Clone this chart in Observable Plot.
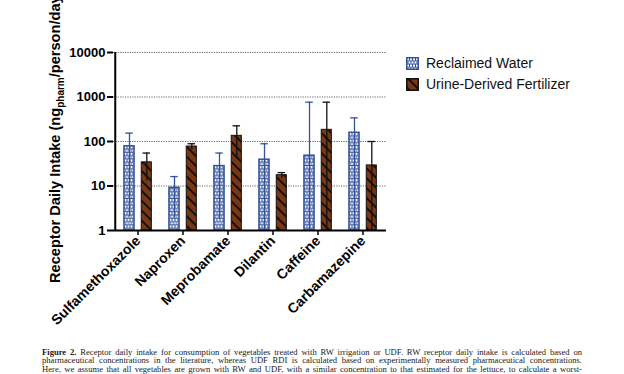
<!DOCTYPE html>
<html><head><meta charset="utf-8">
<script src="https://cdn.jsdelivr.net/npm/d3@7"></script>
<script src="https://cdn.jsdelivr.net/npm/@observablehq/plot@0.6"></script>
<style>
body{margin:0;background:#fff;}
#wrap{position:relative;width:624px;height:374px;overflow:hidden;font-family:"Liberation Sans",Arial,sans-serif;}
#chart{position:absolute;left:0;top:0;}
#legend{position:absolute;left:406px;top:53px;font-size:14px;color:#111;}
.item{display:flex;align-items:center;height:20.7px;white-space:nowrap;}
.item svg{margin-right:7px;}
#caption{position:absolute;left:42px;top:347.5px;width:540px;font-family:"Liberation Serif","DejaVu Serif",serif;font-size:8.6px;line-height:8.7px;color:#1a1a1a;}
#caption div{text-align:justify;text-align-last:justify;white-space:nowrap;}
</style>
</head><body>
<div id="wrap">
<div id="chart"></div>
<div id="legend"></div>
<div id="caption"></div>
</div>
<script>
const categories = ["Sulfamethoxazole","Naproxen","Meprobamate","Dilantin","Caffeine","Carbamazepine"];
const seriesNames = ["Reclaimed Water","Urine-Derived Fertilizer"];
const rwMean  = [78, 9.1, 28, 39, 48, 157];
const rwUpper = [154, 16.3, 55, 89, 765, 340];
const rwLower = [2, 1.9, 1.8, 1, 1, 1];
const udfMean  = [34, 77, 134, 17.5, 183, 29];
const udfUpper = [55, 89, 225, 20, 765, 100];
const udfLower = [13, 65, 43, 15, 1, 1];
const yTicks = [1, 10, 100, 1000, 10000];
const captionLines = [
 ["Figure 2.", " Receptor daily intake for consumption of vegetables treated with RW irrigation or UDF. RW receptor daily intake is calculated based on"],
 ["", "pharmaceutical concentrations in the literature, whereas UDF RDI is calculated based on experimentally measured pharmaceutical concentrations."],
 ["", "Here, we assume that all vegetables are grown with RW and UDF, with a similar concentration to that estimated for the lettuce, to calculate a worst-"]
];

const BLUE = "#34529a", BROWN = "#7a3712";
const rw = categories.map((c,i)=>({cat:c, mean:rwMean[i], lo:rwLower[i], hi:rwUpper[i]}));
const udf = categories.map((c,i)=>({cat:c, mean:udfMean[i], lo:udfLower[i], hi:udfUpper[i]}));

const W = 624, H = 340, ML = 113, MR = 238;
const bw = (W - ML - MR) / categories.length;
const barInset = (bw - 10.6) / 2, capInset = (bw - 8) / 2;
const dxRW = -8.5, dxUDF = 8.8;

const plot = Plot.plot({
  width: W, height: H, marginLeft: ML, marginRight: MR, marginTop: 52, marginBottom: 110,
  style: {fontFamily: "Liberation Sans, Arial, sans-serif", fontSize: "13px", fontWeight: "bold", color: "#000", background: "transparent"},
  x: {domain: categories, padding: 0, label: null},
  y: {type: "log", domain: [1, 10000], label: null},
  marks: [
    Plot.gridY(yTicks.slice(1), {stroke: "#666", strokeOpacity: 1, strokeDasharray: "1.2,1.2", strokeWidth: 1}),
    Plot.barY(rw, {x: "cat", y1: 1, y2: "mean", dx: dxRW, insetLeft: barInset, insetRight: barInset, fill: "url(#rwPat)", stroke: BLUE, strokeWidth: 1.5}),
    Plot.barY(udf, {x: "cat", y1: 1, y2: "mean", dx: dxUDF, insetLeft: barInset, insetRight: barInset, fill: "url(#udfPat)", stroke: "#111", strokeWidth: 1}),
    Plot.ruleX(rw, {x: "cat", y1: "lo", y2: "hi", dx: dxRW, stroke: BLUE, strokeWidth: 1.3}),
    Plot.ruleX(udf, {x: "cat", y1: "lo", y2: "hi", dx: dxUDF, stroke: "#111", strokeWidth: 1.3}),
    Plot.tickY(rw, {x: "cat", y: "hi", dx: dxRW, insetLeft: capInset, insetRight: capInset, stroke: BLUE, strokeWidth: 1.3}),
    Plot.tickY(udf, {x: "cat", y: "hi", dx: dxUDF, insetLeft: capInset, insetRight: capInset, stroke: "#111", strokeWidth: 1.3}),
    Plot.axisY({ticks: yTicks, tickFormat: d3.format("d"), tickSize: 6, tickPadding: 2, strokeWidth: 2, label: null}),
    Plot.axisX({tickRotate: -45, tickSize: 5, tickPadding: 3, strokeWidth: 1.5, fontSize: 14, label: null}),
    Plot.ruleY([1], {stroke: "#000", strokeWidth: 2}),
    Plot.ruleX([categories[0]], {dx: -bw / 2, stroke: "#000", strokeWidth: 2})
  ]
});

const svg = d3.select(plot);
const defs = svg.insert("defs", ":first-child");
const p1 = defs.append("pattern").attr("id", "rwPat").attr("patternUnits", "userSpaceOnUse")
  .attr("width", 6).attr("height", 6.6);
p1.append("rect").attr("width", 6).attr("height", 6.6).attr("fill", "#fff");
p1.append("path").attr("d", "M0,0.5H6M0,3.8H6M0.5,0.5V3.8M3.5,0.5V3.8M2,3.8V7.1M5,3.8V7.1")
  .attr("stroke", BLUE).attr("stroke-width", 1).attr("fill", "none");
const p2 = defs.append("pattern").attr("id", "udfPat").attr("patternUnits", "userSpaceOnUse")
  .attr("width", 7).attr("height", 7).attr("patternTransform", "rotate(-45)");
p2.append("rect").attr("width", 7).attr("height", 7).attr("fill", BROWN);
p2.append("line").attr("x1", 1).attr("x2", 1).attr("y1", 0).attr("y2", 7).attr("stroke", "#111").attr("stroke-width", 2);

const lab = svg.append("text")
  .attr("transform", "translate(60,283) rotate(-90)")
  .attr("text-anchor", "start")
  .attr("font-family", "Liberation Sans, Arial, sans-serif")
  .attr("font-weight", "bold").attr("font-size", 14.6).attr("fill", "#000");
lab.append("tspan").text("Receptor Daily Intake (ng");
lab.append("tspan").attr("dy", 4).attr("font-size", 10).text("pharm");
lab.append("tspan").attr("dy", -4).text("/person/day)");

document.getElementById("chart").appendChild(plot);

const leg = d3.select("#legend");
const swatchFill = ["url(#rwPat)", "url(#udfPat)"], swatchStroke = [BLUE, "#111"];
seriesNames.forEach((n, i) => {
  const it = leg.append("div").attr("class", "item");
  const s = it.append("svg").attr("width", 13).attr("height", 13);
  s.append("rect").attr("x", 0.75).attr("y", 0.75).attr("width", 11.5).attr("height", 11.5)
    .attr("fill", swatchFill[i]).attr("stroke", swatchStroke[i]).attr("stroke-width", 1.5);
  it.append("span").text(n);
});

const cap = d3.select("#caption");
captionLines.forEach(([b, t]) => {
  const d = cap.append("div");
  if (b) d.append("b").text(b);
  d.append("span").text(t);
});
</script>
</body></html>
